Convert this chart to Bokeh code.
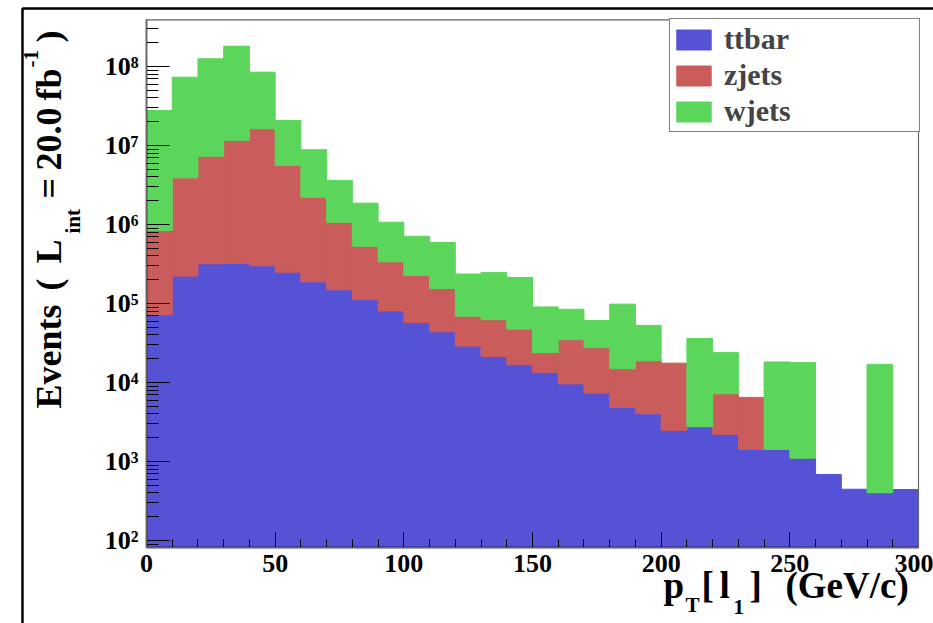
import numpy as np
from bokeh.plotting import figure
from bokeh.models import (ColumnDataSource, Range1d, FixedTicker, SingleIntervalTicker,
                          Label, BoxAnnotation)
from bokeh.embed import file_html
from bokeh.resources import INLINE

# ---- data (events per 10 GeV/c bin) ----
bin_low = list(range(0, 300, 10))
bin_width = 10
ttbar = [7.19e4, 2.22e5, 3.18e5, 3.24e5, 3.00e5, 2.49e5, 1.88e5, 1.49e5, 1.12e5, 8.04e4,
         5.75e4, 4.38e4, 2.88e4, 2.13e4, 1.69e4, 1.34e4, 9.51e3, 7.26e3, 4.79e3, 3.94e3,
         2.40e3, 2.67e3, 2.13e3, 1.34e3, 1.34e3, 1.02e3, 604, 364, 321, 360]
zjets = [7.68e5, 3.68e6, 7.00e6, 1.13e7, 1.60e7, 5.33e6, 2.03e6, 9.2e5, 4.19e5, 2.57e5,
         1.69e5, 1.11e5, 4.03e4, 4.09e4, 3.04e4, 1.04e4, 2.52e4, 2.02e4, 1.01e4, 1.48e4,
         1.51e4, 0, 4.98e3, 5.06e3, 0, 0, 0, 0, 0, 0]
wjets = [2.69e7, 6.93e7, 1.18e8, 1.69e8, 6.84e7, 1.51e7, 6.62e6, 2.54e6, 1.33e6, 7.3e5,
         4.84e5, 4.36e5, 1.67e5, 1.85e5, 1.66e5, 6.66e4, 4.98e4, 3.35e4, 8.31e4, 3.40e4,
         0, 3.34e4, 1.67e4, 0, 1.68e4, 1.68e4, 0, 0, 1.66e4, 0]
series_names = ["ttbar", "zjets", "wjets"]
series_colors = ["#5652d6", "#ca5c5c", "#5bd65b"]
x_axis_range = (0, 300)
y_axis_range = (10 ** 1.911, 10 ** 8.591)
y_decades = [2, 3, 4, 5, 6, 7, 8]

FONT = "Liberation Serif"
W, H = 933, 623

# whole canvas is the frame; axes are pinned with fixed_location
p = figure(width=W, height=H, y_axis_type="log",
           x_range=Range1d(-56.736, 305.829), y_range=Range1d(10 ** 0.9494, 10 ** 8.8354),
           output_backend="svg", toolbar_location=None,
           min_border_left=0, min_border_right=0, min_border_top=0, min_border_bottom=0)
p.xgrid.visible = False
p.ygrid.visible = False
p.outline_line_color = None
p.background_fill_color = "white"
p.border_fill_color = "white"

lo = np.array(bin_low, dtype=float)
bottom = np.full(len(bin_low), y_axis_range[0])
for name, vals, col in zip(series_names, [ttbar, zjets, wjets], series_colors):
    v = np.array(vals, dtype=float)
    top = bottom + v
    m = v > 0
    src = ColumnDataSource(dict(left=lo[m], right=lo[m] + bin_width,
                                bottom=bottom[m], top=top[m]))
    p.quad(left="left", right="right", bottom="bottom", top="top", source=src,
           fill_color=col, line_color=col, line_width=1, legend_label=name)
    bottom = top

# plot box (top/right grey edges)
p.add_layout(BoxAnnotation(left=x_axis_range[0], right=x_axis_range[1],
                           bottom=y_axis_range[0], top=y_axis_range[1],
                           fill_alpha=0, line_color="#666666", line_width=1.2,
                           line_alpha=1))
# canvas border (top and left edges visible)
p.add_layout(BoxAnnotation(left=-48.19, right=330, bottom=10 ** 0.3, top=10 ** 8.734,
                           fill_alpha=0, line_color="black", line_width=2.5, line_alpha=1))

# ---- axes ----
sup = {0: "⁰", 1: "¹", 2: "²", 3: "³", 4: "⁴", 5: "⁵", 6: "⁶", 7: "⁷", 8: "⁸", 9: "⁹"}
xa = p.xaxis[0]
ya = p.yaxis[0]
xa.fixed_location = y_axis_range[0]
ya.fixed_location = x_axis_range[0]
xa.bounds = x_axis_range
ya.bounds = y_axis_range
xa.ticker = SingleIntervalTicker(interval=50, num_minor_ticks=5)
minor_y = [m * 10 ** k for k in range(1, 9) for m in range(2, 10)]
ya.ticker = FixedTicker(ticks=[10 ** k for k in y_decades],
                        minor_ticks=[t for t in minor_y
                                     if y_axis_range[0] <= t <= y_axis_range[1]])
ya.major_label_overrides = {10 ** k: "10" + sup[k] for k in y_decades}
for ax in (xa, ya):
    ax.major_label_text_font = FONT
    ax.major_label_text_font_style = "bold"
    ax.major_label_text_font_size = "26px"
    ax.major_label_text_color = "black"
    ax.axis_line_color = "black"
    ax.axis_line_width = 1.5
    ax.major_tick_line_color = "black"
    ax.minor_tick_line_color = "black"
    ax.major_tick_out = 0
    ax.minor_tick_out = 0
xa.major_tick_in = 15
xa.minor_tick_in = 8
xa.major_label_standoff = 7
ya.major_tick_in = 23
ya.minor_tick_in = 12
ya.major_label_standoff = 8

# ---- axis titles (screen coords from canvas bottom-left) ----
def lab(text, x, y, size, angle=0.0):
    p.add_layout(Label(x=x, y=y, x_units="screen", y_units="screen", text=text,
                       text_font=FONT, text_font_style="bold", text_font_size=size,
                       text_color="black", angle=angle, text_align="left",
                       text_baseline="alphabetic"))

MAIN, SMALL = "37px", "21px"
YMAIN = "36px"
# x title: p_T [ l_1 ] (GeV/c)
lab("p", 663, 38, MAIN)
lab("T", 685, 19, SMALL)
lab("[", 701, 38, MAIN)
lab("l", 719, 38, MAIN)
lab("1", 733, 17, SMALL)
lab("]", 749, 38, MAIN)
lab("(GeV/c)", 785, 38, MAIN)

# y title: Events ( L_int = 20.0 fb^-1 )
A = np.pi / 2
lab("Events", 48, 215, YMAIN, A)
lab("(", 48, 333, YMAIN, A)
lab("L", 48, 360, YMAIN, A)
lab("int", 72, 390, SMALL, A)
lab("=", 48, 425, YMAIN, A)
lab("20.0", 48, 453, YMAIN, A)
lab("fb", 48, 523, YMAIN, A)
lab("-1", 30, 556, SMALL, A)
lab(")", 48, 581, YMAIN, A)

# ---- legend ----
lg = p.legend[0]
lg.location = (669, H - 132)
lg.margin = 0
lg.padding = 2
lg.spacing = 0
lg.glyph_width = 43
lg.glyph_height = 25
lg.label_height = 36
lg.label_standoff = 9
lg.label_width = 193
lg.label_text_font = FONT
lg.label_text_font_style = "bold"
lg.label_text_font_size = "30px"
lg.border_line_color = "black"
lg.border_line_width = 1
lg.background_fill_alpha = 1

open("out.html", "w").write(file_html(p, INLINE))
